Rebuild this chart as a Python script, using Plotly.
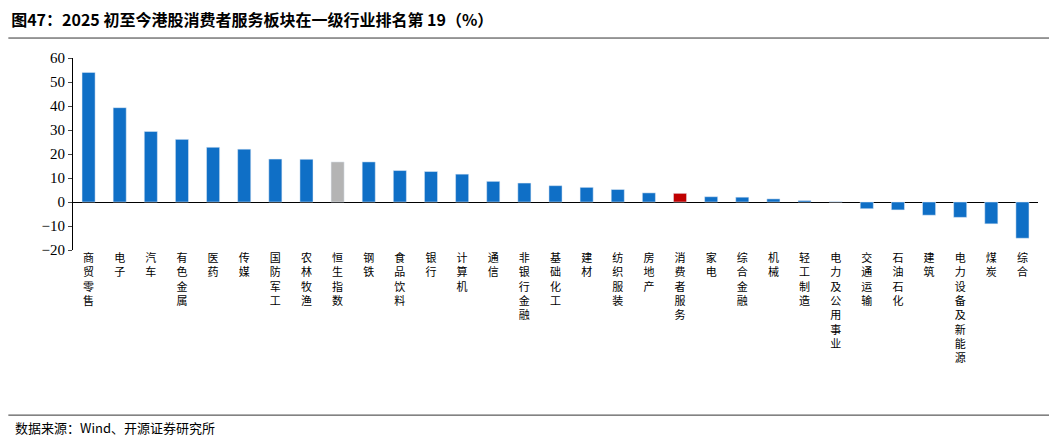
import plotly.graph_objects as go

categories = ["商贸零售", "电子", "汽车", "有色金属", "医药", "传媒", "国防军工", "农林牧渔",
              "恒生指数", "钢铁", "食品饮料", "银行", "计算机", "通信", "非银行金融", "基础化工",
              "建材", "纺织服装", "房地产", "消费者服务", "家电", "综合金融", "机械", "轻工制造",
              "电力及公用事业", "交通运输", "石油石化", "建筑", "电力设备及新能源", "煤炭", "综合"]
values = [54, 39.3, 29.4, 26.1, 22.8, 22.0, 17.9, 17.8, 16.7, 16.7, 13.1, 12.7, 11.6, 8.6,
          7.9, 6.8, 6.1, 5.2, 3.8, 3.6, 2.2, 2.0, 1.3, 0.6, 0.1, -2.8, -3.3, -5.5, -6.4, -9.1, -15.1]
y_ticks = [-20, -10, 0, 10, 20, 30, 40, 50, 60]

colors = []
for c in categories:
    if c == "恒生指数":
        colors.append("#b4b4b4")
    elif c == "消费者服务":
        colors.append("#c00000")
    else:
        colors.append("#0f6fc6")

tick_text = ["<br>".join(c) for c in categories]
font = "Noto Sans CJK SC"

fig = go.Figure(go.Bar(x=categories, y=values, marker_color=colors, width=0.42))

fig.update_layout(
    width=1057, height=436, plot_bgcolor="white", paper_bgcolor="white",
    margin=dict(l=65, r=27, t=50, b=194), showlegend=False,
    font=dict(family=font, color="black"),
    title=dict(text="<b>图47：2025 初至今港股消费者服务板块在一级行业排名第 19（%）</b>",
               x=0.003, xanchor="left", y=0.985, yanchor="top",
               font=dict(size=16, family=font)),
)
fig.update_xaxes(tickvals=categories, ticktext=tick_text, tickangle=0,
                 tickfont=dict(size=11), showline=False, ticks="")
fig.update_yaxes(range=[-20, 60], tickvals=y_ticks, showgrid=False,
                 zeroline=True, zerolinecolor="black", zerolinewidth=1,
                 showline=True, linecolor="black", ticks="outside", ticklen=4,
                 tickfont=dict(size=15, family="Liberation Serif"))

fig.add_shape(type="line", xref="paper", yref="paper", x0=-0.067, x1=1.028,
              y0=1.104, y1=1.104, line=dict(color="#333333", width=1))
fig.add_shape(type="line", xref="paper", yref="paper", x0=-0.067, x1=1.028,
              y0=-0.86, y1=-0.86, line=dict(color="#333333", width=1))
fig.add_annotation(text="数据来源：Wind、开源证券研究所", xref="paper", yref="paper",
                   x=-0.062, y=-0.925, xanchor="left", yanchor="middle",
                   showarrow=False, font=dict(size=13, family=font))

fig.write_html("out.html")
